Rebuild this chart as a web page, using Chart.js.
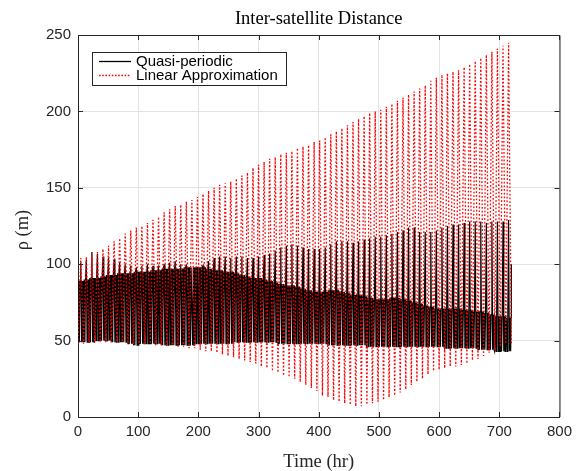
<!DOCTYPE html>
<html>
<head>
<meta charset="utf-8">
<script src="https://cdn.jsdelivr.net/npm/chart.js@4.4.1/dist/chart.umd.min.js"></script>
<style>
  html, body { margin: 0; padding: 0; background: #fff; }
  canvas { display: block; }
</style>
</head>
<body>
<canvas id="chart" width="578" height="471"></canvas>
<script>
const endTime = 720; // hr
const xTicks = [0, 100, 200, 300, 400, 500, 600, 700, 800];
const yTicks = [0, 50, 100, 150, 200, 250];

// one value per orbit (78 orbits over 720 hr)
const redPeak = [104, 105, 107, 108, 110, 112, 115, 117, 120, 122, 124, 125, 127, 129, 131, 134, 136, 138, 139, 141,
    142, 144, 146, 148, 150, 152, 153, 154, 156, 158, 160, 163, 165, 167, 169, 170, 172, 173, 174, 176,
    177, 178, 180, 181, 183, 185, 187, 189, 191, 193, 195, 197, 199, 200, 201, 203, 205, 207, 209, 211,
    213, 215, 217, 220, 222, 224, 225, 226, 227, 229, 231, 233, 235, 237, 239, 241, 243, 245];
const redLow = [48, 48, 49, 49, 49, 49, 49, 49, 49, 48, 48, 48, 48, 48, 47, 47, 47, 47, 46, 46,
    45, 45, 44, 43, 43, 42, 41, 40, 39, 38, 37, 36, 35, 33, 32, 30, 29, 27, 26, 25,
    23, 21, 19, 17, 14, 13, 11, 10, 9, 8, 7, 7, 8, 9, 10, 11, 13, 14, 16, 18,
    21, 23, 25, 28, 30, 31, 32, 33, 33, 34, 35, 37, 38, 40, 42, 44, 46, 48];
const blackPeak = [101, 103, 108, 107, 105, 104, 103, 101, 100, 99, 98, 99, 100, 99, 98, 100, 101, 102, 100, 99,
    98, 98, 99, 102, 104, 105, 105, 104, 105, 105, 104, 104, 105, 106, 107, 109, 111, 112, 113, 112,
    111, 110, 110, 110, 111, 113, 115, 115, 115, 114, 115, 116, 117, 118, 118, 119, 120, 121, 122, 124,
    124, 121, 121, 121, 122, 124, 125, 126, 126, 127, 128, 128, 128, 127, 128, 128, 128, 129];
const blackBand = [89, 90, 91, 91, 92, 93, 93, 94, 94, 94, 95, 95, 95, 96, 96, 97, 97, 97, 97, 98,
    98, 98, 98, 97, 96, 96, 95, 95, 94, 93, 92, 91, 91, 90, 89, 88, 87, 86, 86, 85,
    84, 83, 82, 82, 82, 83, 83, 82, 81, 80, 80, 79, 78, 77, 77, 77, 78, 78, 77, 76,
    75, 74, 73, 72, 71, 71, 71, 71, 71, 70, 70, 69, 69, 68, 67, 66, 66, 65];
const blackLow = [49, 49, 49, 50, 50, 50, 49, 49, 49, 48, 47, 48, 48, 48, 48, 47, 47, 47, 47, 47,
    47, 48, 48, 48, 48, 48, 48, 48, 49, 49, 49, 49, 49, 49, 49, 49, 48, 48, 48, 48,
    48, 48, 48, 48, 48, 47, 47, 47, 47, 47, 47, 47, 46, 46, 46, 46, 46, 46, 46, 46,
    46, 46, 46, 46, 46, 46, 45, 45, 45, 45, 45, 45, 44, 44, 44, 43, 43, 43];
const blackEnd = 100;

const period = endTime / redPeak.length;

const linearPts = [];
redPeak.forEach((pk, k) => {
    const t0 = k * period;
    linearPts.push({ x: t0, y: redLow[k] }, { x: t0 + period / 2, y: pk });
});
linearPts.push({ x: endTime, y: redLow[redLow.length - 1] });

const quasiPts = [];
blackPeak.forEach((pk, k) => {
    const t0 = k * period;
    const lo = blackLow[k];
    const band = blackBand[k];
    quasiPts.push(
        { x: t0, y: lo },
        { x: t0 + period * 0.12, y: band },
        { x: t0 + period * 0.24, y: lo },
        { x: t0 + period * 0.36, y: band },
        { x: t0 + period * 0.5, y: pk },
        { x: t0 + period * 0.64, y: lo },
        { x: t0 + period * 0.76, y: band },
        { x: t0 + period * 0.88, y: lo },
        { x: t0 + period * 0.94, y: band }
    );
});
quasiPts.push({ x: endTime, y: blackEnd });

const axisColor = '#262626';
const tickFont = { family: 'Liberation Sans', size: 15 };

// MATLAB-ish box, inward ticks, title, labels, legend
const decor = {
    id: 'decor',
    afterDraw(chart) {
        const { ctx, chartArea: a, scales } = chart;
        ctx.save();
        ctx.strokeStyle = axisColor;
        ctx.lineWidth = 1;
        ctx.beginPath();
        ctx.moveTo(a.left, a.top + 0.5);
        ctx.lineTo(a.right + 0.5, a.top + 0.5);
        ctx.lineTo(a.right + 0.5, a.bottom);
        xTicks.forEach(v => {
            const x = Math.round(scales.x.getPixelForValue(v)) + 0.5;
            ctx.moveTo(x, a.bottom); ctx.lineTo(x, a.bottom - 5);
            ctx.moveTo(x, a.top); ctx.lineTo(x, a.top + 5);
        });
        yTicks.forEach(v => {
            const y = Math.round(scales.y.getPixelForValue(v)) + 0.5;
            ctx.moveTo(a.left, y); ctx.lineTo(a.left + 5, y);
            ctx.moveTo(a.right, y); ctx.lineTo(a.right - 5, y);
        });
        ctx.stroke();

        // texts
        ctx.fillStyle = '#000';
        ctx.textAlign = 'center';
        ctx.textBaseline = 'alphabetic';
        ctx.font = '18.5px "Liberation Serif"';
        const cx = (a.left + a.right) / 2;
        ctx.fillText('Inter-satellite Distance', cx, 24);
        ctx.fillStyle = axisColor;
        ctx.fillText('Time (hr)', cx, 467);
        ctx.save();
        ctx.translate(28, (a.top + a.bottom) / 2 + 4);
        ctx.rotate(-Math.PI / 2);
        ctx.fillText('\u03c1 (m)', 0, 0);
        ctx.restore();

        // legend
        const bx = 92.5, by = 52.5, bw = 194, bh = 33;
        ctx.fillStyle = '#fff';
        ctx.fillRect(bx, by, bw, bh);
        ctx.strokeStyle = axisColor;
        ctx.strokeRect(bx, by, bw, bh);
        ctx.beginPath();
        ctx.strokeStyle = '#000';
        ctx.lineWidth = 1.3;
        ctx.moveTo(99, 61.5); ctx.lineTo(131, 61.5);
        ctx.stroke();
        ctx.beginPath();
        ctx.strokeStyle = '#ff0000';
        ctx.setLineDash([1.6, 1.6]);
        ctx.moveTo(99, 75.5); ctx.lineTo(131, 75.5);
        ctx.stroke();
        ctx.setLineDash([]);
        ctx.fillStyle = '#000';
        ctx.textAlign = 'left';
        ctx.font = '15px "Liberation Sans"';
        ctx.fillText('Quasi-periodic', 136, 66);
        ctx.fillText('Linear Approximation', 136, 80);
        ctx.restore();
    }
};

new Chart(document.getElementById('chart'), {
    type: 'line',
    data: {
        datasets: [
            {
                label: 'Quasi-periodic',
                data: quasiPts,
                borderColor: '#000000',
                borderWidth: 1.2,
                pointRadius: 0,
                tension: 0,
                order: 1
            },
            {
                label: 'Linear Approximation',
                data: linearPts,
                borderColor: '#ff0000',
                borderWidth: 1.3,
                borderDash: [1.7, 2],
                pointRadius: 0,
                tension: 0,
                order: 0
            }
        ]
    },
    options: {
        responsive: false,
        animation: false,
        parsing: false,
        normalized: true,
        layout: { padding: { top: 35, right: 16, left: 0, bottom: 0 } },
        plugins: {
            legend: { display: false },
            title: { display: false },
            tooltip: { enabled: false }
        },
        scales: {
            x: {
                type: 'linear',
                min: 0,
                max: 800,
                afterFit: s => { s.height = 54; },
                afterBuildTicks: s => { s.ticks = xTicks.map(v => ({ value: v })); },
                ticks: { font: tickFont, color: axisColor, padding: 6, maxRotation: 0 },
                grid: { color: '#e3e3e3', drawTicks: false },
                border: { color: axisColor, width: 1 }
            },
            y: {
                type: 'linear',
                min: 0,
                max: 250,
                afterFit: s => { s.width = 78; },
                afterBuildTicks: s => { s.ticks = yTicks.map(v => ({ value: v })); },
                ticks: { font: tickFont, color: axisColor, padding: 7 },
                grid: { color: '#e3e3e3', drawTicks: false },
                border: { color: axisColor, width: 1 }
            }
        }
    },
    plugins: [decor]
});
</script>
</body>
</html>
